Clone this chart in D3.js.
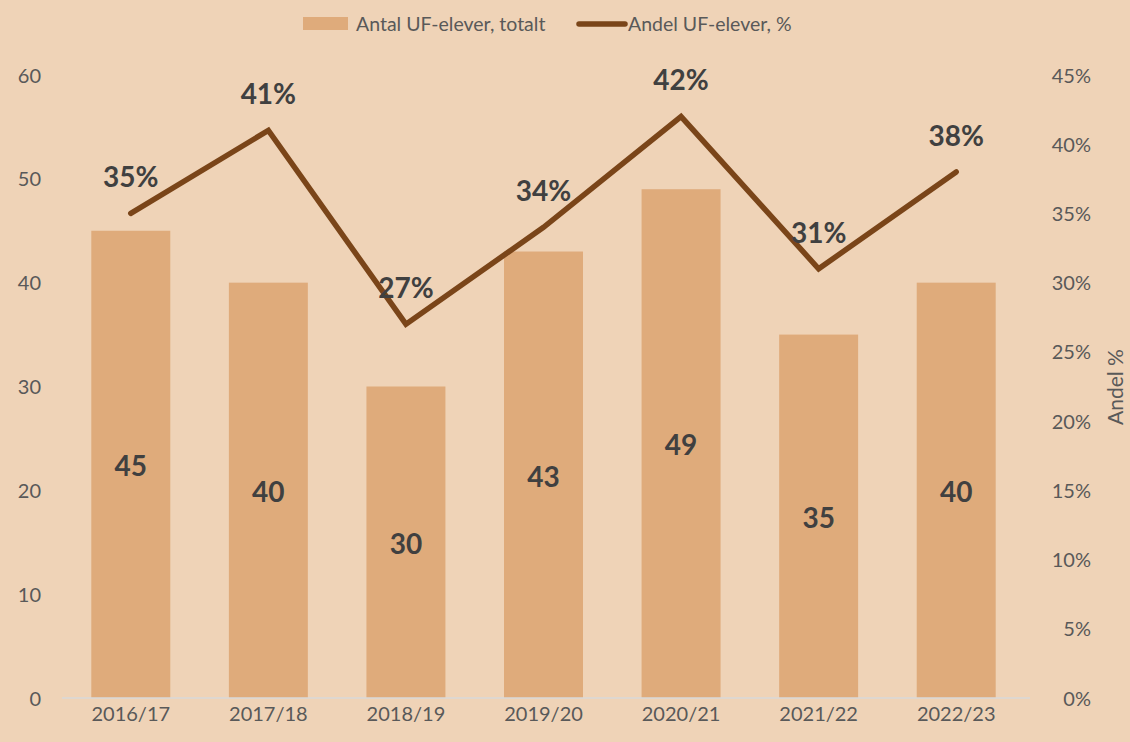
<!DOCTYPE html>
<html><head><meta charset="utf-8">
<script src="https://cdn.jsdelivr.net/npm/d3@7"></script>
<style>html,body{margin:0;padding:0;background:#EFD3B7;}svg{display:block;}</style>
</head><body>
<svg id="c" width="1130" height="742"></svg>
<script>
const categories = ["2016/17","2017/18","2018/19","2019/20","2020/21","2021/22","2022/23"];
const antal = [45,40,30,43,49,35,40];
const andel = [35,41,27,34,42,31,38];
const leftTicks = [0,10,20,30,40,50,60];
const rightTicks = [0,5,10,15,20,25,30,35,40,45];

const font = "Lato, 'Open Sans', sans-serif";
const svg = d3.select("#c");
svg.append("rect").attr("width",1130).attr("height",742).attr("fill","#EFD3B7");

const x0 = 62, x1 = 1025, yTop = 75, yBot = 698;
const x = d3.scaleBand().domain(categories).range([x0,x1]).paddingInner(0.426).paddingOuter(0.213);
const yL = d3.scaleLinear().domain([0,60]).range([yBot,yTop]);
const yR = d3.scaleLinear().domain([0,45]).range([yBot,yTop]);

// bars
svg.append("g").selectAll("rect").data(antal).join("rect")
  .attr("x",(d,i)=>x(categories[i])).attr("width",x.bandwidth())
  .attr("y",d=>yL(d)).attr("height",d=>yBot-yL(d)).attr("fill","#DFAB7B");

// baseline
svg.append("line").attr("x1",x0).attr("x2",x1+5).attr("y1",yBot).attr("y2",yBot)
  .attr("stroke","#D9D9D9").attr("stroke-width",1.5);

// left axis
const gL = svg.append("g").attr("transform",`translate(41,0)`)
  .call(d3.axisLeft(yL).tickValues(leftTicks).tickSize(0).tickPadding(0));
gL.select(".domain").remove();
gL.selectAll("text").attr("font-family",font).attr("font-size",20).attr("fill","#595959").attr("dy","0.35em");

// right axis
const gR = svg.append("g").attr("transform",`translate(1091,0)`)
  .call(d3.axisLeft(yR).tickValues(rightTicks).tickFormat(d=>d+"%").tickSize(0).tickPadding(0));
gR.select(".domain").remove();
gR.selectAll("text").attr("font-family",font).attr("font-size",20).attr("fill","#595959").attr("dy","0.35em");

// x axis
const gX = svg.append("g").attr("transform",`translate(0,${yBot})`)
  .call(d3.axisBottom(x).tickSize(0).tickPadding(9));
gX.select(".domain").remove();
gX.selectAll("text").attr("font-family",font).attr("font-size",20).attr("fill","#595959");

// right axis title
svg.append("text").attr("transform","translate(1123,387) rotate(-90)")
  .attr("text-anchor","middle").attr("font-family",font).attr("font-size",21).attr("fill","#595959").text("Andel %");

// line
const cx = (d,i)=>x(categories[i])+x.bandwidth()/2;
svg.append("path").datum(andel)
  .attr("d",d3.line().x(cx).y(d=>yR(d)))
  .attr("fill","none").attr("stroke","#7A4519").attr("stroke-width",5.5)
  .attr("stroke-linejoin","miter").attr("stroke-linecap","round");

// bar value labels
svg.append("g").selectAll("text").data(antal).join("text")
  .attr("x",cx).attr("y",d=>(yL(d)+yBot)/2+2).attr("dy","0.35em").attr("text-anchor","middle")
  .attr("font-family",font).attr("font-weight","bold").attr("font-size",28).attr("fill","#404040")
  .text(d=>d);

// line labels
svg.append("g").selectAll("text").data(andel).join("text")
  .attr("x",cx).attr("y",d=>yR(d)-36).attr("dy","0.35em").attr("text-anchor","middle")
  .attr("font-family",font).attr("font-weight","bold").attr("font-size",28).attr("fill","#404040")
  .text(d=>d+"%");

// legend
const lg = svg.append("g");
lg.append("rect").attr("x",303).attr("y",17).attr("width",45).attr("height",13).attr("fill","#DFAB7B");
lg.append("text").attr("x",356).attr("y",24).attr("dy","0.35em").attr("font-family",font).attr("font-size",19.5).attr("fill","#595959").text("Antal UF-elever, totalt");
lg.append("line").attr("x1",579).attr("x2",625).attr("y1",24).attr("y2",24).attr("stroke","#7A4519").attr("stroke-width",5.5).attr("stroke-linecap","round");
lg.append("text").attr("x",628).attr("y",24).attr("dy","0.35em").attr("font-family",font).attr("font-size",19.5).attr("fill","#595959").text("Andel UF-elever, %");
</script>
</body></html>
